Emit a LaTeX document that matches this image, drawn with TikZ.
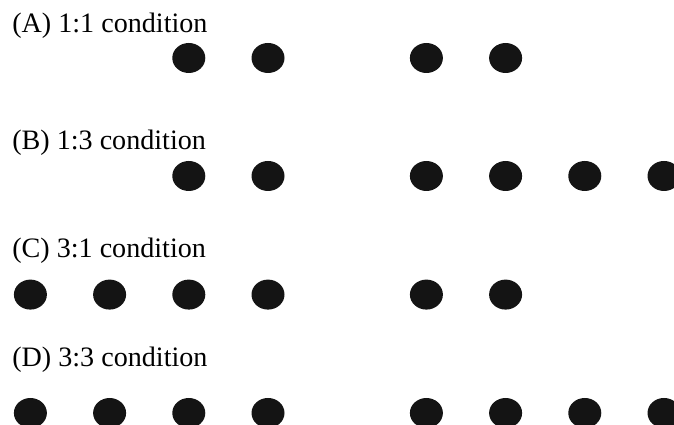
\documentclass[tikz,border=0pt]{standalone}
\usepackage{fontspec}
\setmainfont{Liberation Serif}
\usetikzlibrary{shapes.geometric}
\tikzset{
  every picture/.style={line join=round, line cap=round},
  dot/.style={ellipse, fill=black!92, inner sep=0pt, minimum width=0.825cm, minimum height=0.75cm},
  cond/.style={anchor=base west, inner sep=0pt, font=\fontsize{20}{24}\selectfont},
}
\begin{document}
\begin{tikzpicture}
\useasboundingbox(0,0)rectangle(16.85,10.625);
\clip(0,0)rectangle(16.85,10.625);
% labels
\path(0.3,9.8)node[cond](la){(A) 1:1 condition}
(0.3,6.875)node[cond](lb){(B) 1:3 condition}
(0.3,4.175)node[cond](lc){(C) 3:1 condition}
(0.3,1.45)node[cond](ld){(D) 3:3 condition};
% row A
\path(4.72,9.175)node[dot](a1){} (6.70,9.175)node[dot](a2){}
(10.66,9.175)node[dot](a3){} (12.64,9.175)node[dot](a4){};
% row B
\path(4.72,6.225)node[dot](b1){} (6.70,6.225)node[dot](b2){}
(10.66,6.225)node[dot](b3){} (12.64,6.225)node[dot](b4){}
(14.62,6.225)node[dot](b5){} (16.60,6.225)node[dot](b6){};
% row C
\path(0.76,3.26)node[dot](c1){} (2.74,3.26)node[dot](c2){}
(4.72,3.26)node[dot](c3){} (6.70,3.26)node[dot](c4){}
(10.66,3.26)node[dot](c5){} (12.64,3.26)node[dot](c6){};
% row D
\path(0.76,0.3)node[dot](d1){} (2.74,0.3)node[dot](d2){}
(4.72,0.3)node[dot](d3){} (6.70,0.3)node[dot](d4){}
(10.66,0.3)node[dot](d5){} (12.64,0.3)node[dot](d6){}
(14.62,0.3)node[dot](d7){} (16.60,0.3)node[dot](d8){};
\end{tikzpicture}
\end{document}
